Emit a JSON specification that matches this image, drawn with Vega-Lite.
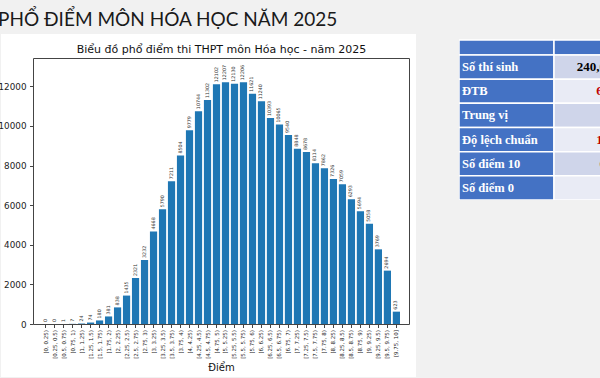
{
  "$schema": "https://vega.github.io/schema/vega-lite/v6.json",
  "background": "#f1f1f1",
  "padding": {"left": -2, "top": 11, "right": 0, "bottom": 1},
  "title": {"text": "PHỔ ĐIỂM MÔN HÓA HỌC NĂM 2025", "anchor": "start", "font": "Lato", "fontSize": 19, "fontWeight": "normal", "color": "#1a1a1a", "offset": 4, "baseline": "top"},
  "config": {"view": {"stroke": null}, "axis": {"grid": false}},
  "spacing": 43,
  "hconcat": [
    {
      "width": 415,
      "height": 343,
      "view": {"fill": "white", "stroke": null},
      "data": {"values": [
        {"bin": "[0, 0.25)", "count": 0},
        {"bin": "[0.25, 0.5)", "count": 0},
        {"bin": "[0.5, 0.75)", "count": 1},
        {"bin": "[0.75, 1)", "count": 7},
        {"bin": "[1, 1.25)", "count": 24},
        {"bin": "[1.25, 1.5)", "count": 74},
        {"bin": "[1.5, 1.75)", "count": 180},
        {"bin": "[1.75, 2)", "count": 381},
        {"bin": "[2, 2.25)", "count": 838},
        {"bin": "[2.25, 2.5)", "count": 1435},
        {"bin": "[2.5, 2.75)", "count": 2321},
        {"bin": "[2.75, 3)", "count": 3232},
        {"bin": "[3, 3.25)", "count": 4668},
        {"bin": "[3.25, 3.5)", "count": 5790},
        {"bin": "[3.5, 3.75)", "count": 7211},
        {"bin": "[3.75, 4)", "count": 8504},
        {"bin": "[4, 4.25)", "count": 9779},
        {"bin": "[4.25, 4.5)", "count": 10744},
        {"bin": "[4.5, 4.75)", "count": 11302},
        {"bin": "[4.75, 5)", "count": 12102},
        {"bin": "[5, 5.25)", "count": 12207},
        {"bin": "[5.25, 5.5)", "count": 12130},
        {"bin": "[5.5, 5.75)", "count": 12206},
        {"bin": "[5.75, 6)", "count": 11621},
        {"bin": "[6, 6.25)", "count": 11240},
        {"bin": "[6.25, 6.5)", "count": 10393},
        {"bin": "[6.5, 6.75)", "count": 10065},
        {"bin": "[6.75, 7)", "count": 9540},
        {"bin": "[7, 7.25)", "count": 8848},
        {"bin": "[7.25, 7.5)", "count": 8678},
        {"bin": "[7.5, 7.75)", "count": 8114},
        {"bin": "[7.75, 8)", "count": 7862},
        {"bin": "[8, 8.25)", "count": 7326},
        {"bin": "[8.25, 8.5)", "count": 7059},
        {"bin": "[8.5, 8.75)", "count": 6293},
        {"bin": "[8.75, 9)", "count": 5694},
        {"bin": "[9, 9.25)", "count": 5058},
        {"bin": "[9.25, 9.5)", "count": 3769},
        {"bin": "[9.5, 9.75)", "count": 2694},
        {"bin": "[9.75, 10]", "count": 623}
      ]},
      "layer": [
        {
          "mark": {"type": "bar", "color": "#1f77b4"},
          "encoding": {
            "x": {"field": "bin", "type": "nominal", "sort": null,
              "scale": {"type": "band", "range": [32, 408], "paddingInner": 0.2, "paddingOuter": 2},
              "axis": {"orient": "bottom", "offset": -53, "title": "Điểm", "labelAngle": -90, "labelFontSize": 5.5, "labelFont": "DejaVu Sans", "labelColor": "#222", "tickSize": 3.5, "tickColor": "#444", "domainColor": "#444", "labelPadding": 2, "titleFont": "DejaVu Sans", "titleFontSize": 10, "titleFontWeight": "normal", "titleColor": "#111", "titlePadding": 4, "labelOverlap": false, "labelLimit": 0}},
            "y": {"field": "count", "type": "quantitative",
              "scale": {"domain": [0, 13428], "range": [290, 24], "nice": false, "zero": true},
              "axis": {"orient": "left", "offset": -32, "values": [0, 2000, 4000, 6000, 8000, 10000, 12000], "title": null, "grid": false, "labelFont": "DejaVu Sans", "labelFontSize": 8.8, "labelColor": "#222", "tickSize": 3.5, "tickColor": "#444", "domainColor": "#444", "labelPadding": 3.5, "format": "d"}}
          }
        },
        {
          "mark": {"type": "text", "angle": 270, "align": "left", "baseline": "middle", "dx": 2, "fontSize": 4.8, "font": "DejaVu Sans", "color": "#333"},
          "encoding": {
            "x": {"field": "bin", "type": "nominal", "sort": null,
              "scale": {"type": "band", "range": [32, 408], "paddingInner": 0.2, "paddingOuter": 2},
              "axis": {"orient": "top", "offset": -24, "labels": false, "ticks": false, "domainColor": "#444", "title": "Biểu đồ phổ điểm thi THPT môn Hóa học - năm 2025", "titleFont": "DejaVu Sans", "titleFontSize": 11, "titleFontWeight": "normal", "titleColor": "#111", "titlePadding": 4}},
            "y": {"field": "count", "type": "quantitative",
              "axis": {"orient": "right", "offset": -7, "labels": false, "ticks": false, "grid": false, "domainColor": "#444", "title": null}},
            "text": {"field": "count", "type": "quantitative", "format": "d"}
          }
        }
      ],
      "resolve": {"axis": {"x": "independent", "y": "independent"}}
    },
    {
      "width": 142,
      "height": 166,
      "data": {"values": [
        {"label": "Số thí sinh", "value": "240,013"},
        {"label": "ĐTB", "value": "6.06"},
        {"label": "Trung vị", "value": "6"},
        {"label": "Độ lệch chuẩn", "value": "1.82"},
        {"label": "Số điểm 10", "value": "623"},
        {"label": "Số điểm 0", "value": "0"}
      ]},
      "layer": [
        {
          "data": {"values": [{"col": "label"}, {"col": "value"}]},
          "mark": {"type": "rect", "clip": true, "color": "#4472c4", "stroke": "white", "strokeWidth": 1.5},
          "encoding": {
            "x": {"field": "col", "type": "nominal", "scale": {"type": "band", "domain": ["label", "value"], "range": [0, 190], "paddingInner": 0, "paddingOuter": 0}, "axis": null},
            "y": {"datum": "header", "type": "nominal", "scale": {"type": "band", "domain": ["header"], "range": [6, 21], "paddingInner": 0, "paddingOuter": 0}, "axis": null}
          }
        },
        {
          "mark": {"type": "rect", "clip": true, "color": "#4472c4", "stroke": "white", "strokeWidth": 1.5},
          "encoding": {
            "x": {"datum": "label", "type": "nominal", "scale": {"type": "band", "domain": ["label", "value"], "range": [0, 190], "paddingInner": 0, "paddingOuter": 0}, "axis": null},
            "y": {"field": "label", "type": "nominal", "sort": null, "scale": {"type": "band", "domain": ["Số thí sinh", "ĐTB", "Trung vị", "Độ lệch chuẩn", "Số điểm 10", "Số điểm 0"], "range": [21, 166], "paddingInner": 0, "paddingOuter": 0}, "axis": null}
          }
        },
        {
          "mark": {"type": "rect", "clip": true, "stroke": "white", "strokeWidth": 1.5},
          "encoding": {
            "x": {"datum": "value", "type": "nominal", "scale": {"type": "band", "domain": ["label", "value"], "range": [0, 190], "paddingInner": 0, "paddingOuter": 0}, "axis": null},
            "y": {"field": "label", "type": "nominal", "sort": null, "scale": {"type": "band", "domain": ["Số thí sinh", "ĐTB", "Trung vị", "Độ lệch chuẩn", "Số điểm 10", "Số điểm 0"], "range": [21, 166], "paddingInner": 0, "paddingOuter": 0}, "axis": null},
            "fill": {"field": "label", "type": "nominal", "scale": {"domain": ["Số thí sinh", "ĐTB", "Trung vị", "Độ lệch chuẩn", "Số điểm 10", "Số điểm 0"], "range": ["#cfd5ea", "#e9ebf5", "#cfd5ea", "#e9ebf5", "#cfd5ea", "#e9ebf5"]}, "legend": null}
          }
        },
        {
          "mark": {"type": "text", "align": "left", "baseline": "middle", "dx": 3, "font": "Liberation Serif", "fontWeight": "bold", "fontSize": 12.5, "color": "white"},
          "encoding": {
            "x": {"datum": "label", "type": "nominal", "bandPosition": 0, "scale": {"type": "band", "domain": ["label", "value"], "range": [0, 190], "paddingInner": 0, "paddingOuter": 0}, "axis": null},
            "y": {"field": "label", "type": "nominal", "sort": null, "scale": {"type": "band", "domain": ["Số thí sinh", "ĐTB", "Trung vị", "Độ lệch chuẩn", "Số điểm 10", "Số điểm 0"], "range": [21, 166], "paddingInner": 0, "paddingOuter": 0}, "axis": null},
            "text": {"field": "label", "type": "nominal"}
          }
        },
        {
          "mark": {"type": "text", "align": "right", "baseline": "middle", "dx": -30, "clip": true, "font": "Liberation Serif", "fontWeight": "bold", "fontSize": 13},
          "encoding": {
            "x": {"datum": "value", "type": "nominal", "bandPosition": 1, "scale": {"type": "band", "domain": ["label", "value"], "range": [0, 190], "paddingInner": 0, "paddingOuter": 0}, "axis": null},
            "y": {"field": "label", "type": "nominal", "sort": null, "scale": {"type": "band", "domain": ["Số thí sinh", "ĐTB", "Trung vị", "Độ lệch chuẩn", "Số điểm 10", "Số điểm 0"], "range": [21, 166], "paddingInner": 0, "paddingOuter": 0}, "axis": null},
            "text": {"field": "value", "type": "nominal"},
            "color": {"field": "label", "type": "nominal", "scale": {"domain": ["Số thí sinh", "ĐTB", "Trung vị", "Độ lệch chuẩn", "Số điểm 10", "Số điểm 0"], "range": ["#000000", "#c00000", "#000000", "#c00000", "#c00000", "#000000"]}, "legend": null}
          }
        }
      ],
      "resolve": {"scale": {"y": "independent", "fill": "independent", "color": "independent"}}
    }
  ]
}
